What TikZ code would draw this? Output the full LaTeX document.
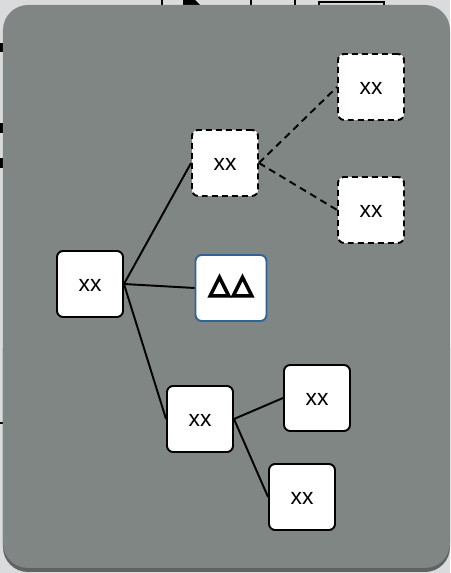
\documentclass[tikz,border=0pt]{standalone}
\usepackage{fontspec}
\setmainfont{Liberation Sans}
\newfontfamily\deltafont[FakeBold=8]{DejaVu Sans}
\definecolor{panelgray}{HTML}{808684}
\definecolor{pagegray}{HTML}{DADBDD}
\definecolor{shadowgray}{HTML}{5F6362}
\definecolor{deltablue}{HTML}{2F6496}
\tikzset{
	box/.style={draw,fill=white,line width=1.1pt,rounded corners=3.5pt,minimum width=1.32cm,minimum height=1.32cm,font=\fontsize{13}{15}\selectfont,inner sep=0pt,text height=8.4pt,text depth=0pt},
	dashbox/.style={box,dash pattern=on 3.4pt off 2.3pt},
	deltabox/.style={box,draw=deltablue,line width=1.1pt,minimum width=1.42cm,font=\deltafont\fontsize{15.5}{19}\selectfont,text height=6pt},
	link/.style={line width=1.1pt},
	dashlink/.style={link,dash pattern=on 4pt off 2.8pt}
}
\begin{document}
\begin{tikzpicture}
	\useasboundingbox (0,0) rectangle (9,11.46);
	\fill [pagegray] (0,0) rectangle (9,11.46);

	\draw [line width=1.1pt] (3.24,11.46) to (3.24,11.36);
	\fill (3.66,11.36) to (3.66,11.46) to (3.9,11.46) to (4,11.36) -- cycle;
	\draw [line width=1.1pt] (5.02,11.46) to (5.02,11.36);
	\draw [line width=1.1pt] (5.9,11.46) to (5.9,11.36);
	\draw [line width=1.1pt] (6.38,11.36) to (6.38,11.42) to (7.68,11.42) to (7.68,11.36);
	\fill (0,10.6) rectangle (0.06,10.42);
	\fill (0,9) rectangle (0.06,8.8);
	\fill (0,8.3) rectangle (0.06,8.1);
	\fill (0,3.02) rectangle (0.06,2.98);

	\fill [shadowgray,rounded corners=0.5cm] (0.06,0.02) rectangle (9,5);
	\fill [panelgray,rounded corners=0.5cm] (0.06,0.1) rectangle (9,11.36);

	\node [box] (root) at (1.8,5.78) {xx};
	\node [dashbox] (upper) at (4.5,8.2) {xx};
	\node [dashbox] (uppertop) at (7.42,9.72) {xx};
	\node [dashbox] (upperbot) at (7.42,7.26) {xx};
	\node [deltabox] (delta) at (4.62,5.7) {△\kern1.2pt△};
	\node [box] (lower) at (4,3.08) {xx};
	\node [box] (lowertop) at (6.34,3.5) {xx};
	\node [box] (lowerbot) at (6.04,1.52) {xx};

	\draw [link] (root.east) to (upper.west);
	\draw [link] (root.east) to (delta.west);
	\draw [link] (root.east) to (lower.west);
	\draw [link] (lower.east) to (lowertop.west);
	\draw [link] (lower.east) to (lowerbot.west);
	\draw [dashlink] (upper.east) to (uppertop.west);
	\draw [dashlink] (upper.east) to (upperbot.west);
\end{tikzpicture}
\end{document}
